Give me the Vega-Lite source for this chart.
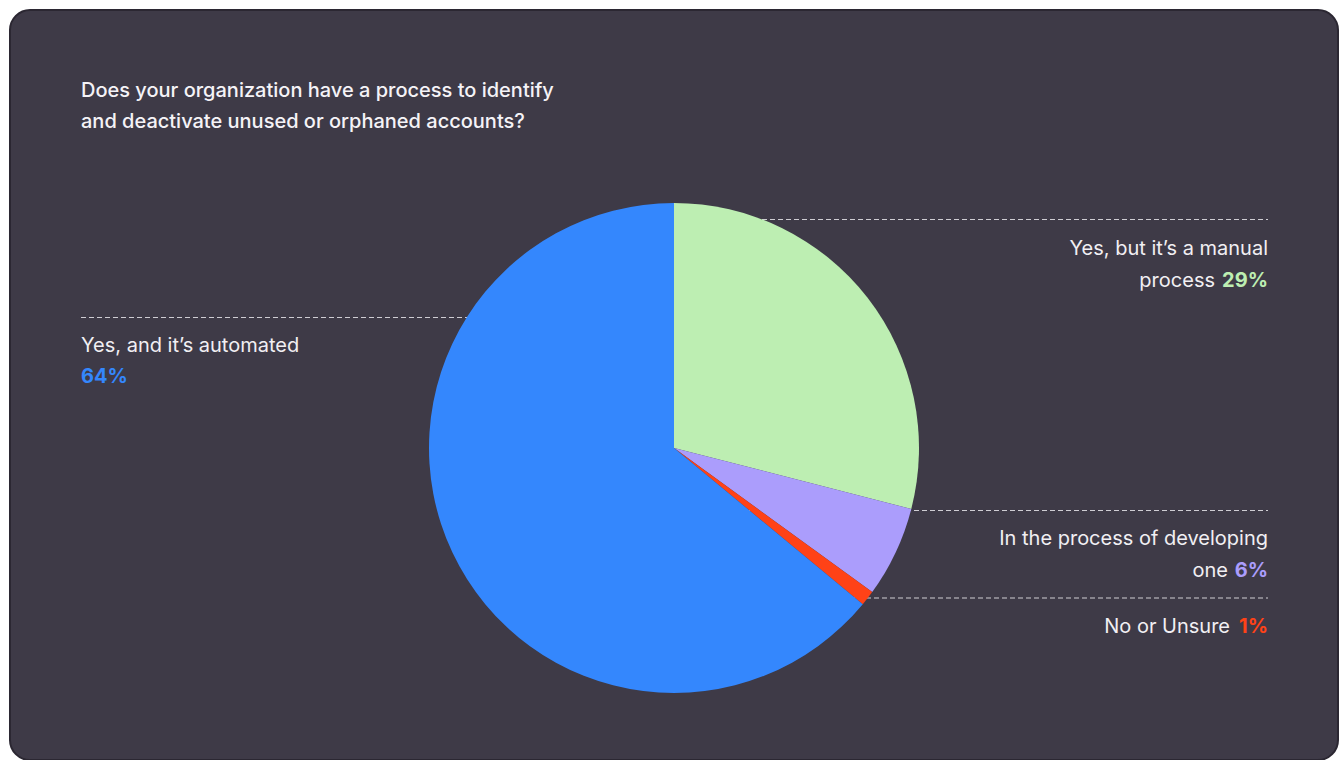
{
  "$schema": "https://vega.github.io/schema/vega-lite/v6.json",
  "width": 1328,
  "height": 750,
  "autosize": {"type": "none"},
  "padding": {"left": 10, "top": 10, "right": 3, "bottom": 0},
  "background": "#ffffff",
  "view": {"fill": "#3e3a47", "stroke": "#2b2732", "strokeWidth": 2, "cornerRadius": 20},
  "config": {
    "view": {"fill": "#3e3a47", "stroke": "#2b2732", "strokeWidth": 2, "cornerRadius": 20},
    "font": "Inter",
    "text": {"font": "Inter", "fontSize": 20, "color": "#f1eff3", "baseline": "alphabetic"}
  },
  "title": {
    "text": ["Does your organization have a process to identify", "and deactivate unused or orphaned accounts?"],
    "anchor": "start",
    "frame": "group",
    "orient": "top",
    "dx": 71,
    "offset": -122,
    "fontSize": 20,
    "fontWeight": 500,
    "lineHeight": 31,
    "color": "#f5f3f7",
    "font": "Inter"
  },
  "data": {
    "values": [
      {"category": "Yes, but it’s a manual process", "pct": 0.29},
      {"category": "In the process of developing one", "pct": 0.06},
      {"category": "No or Unsure", "pct": 0.01},
      {"category": "Yes, and it’s automated", "pct": 0.64}
    ]
  },
  "layer": [
    {
      "transform": [{"filter": "datum.category === 'Yes, but it’s a manual process'"}],
      "mark": {"type": "rule", "strokeDash": [5, 3], "color": "#cfcdd3", "strokeWidth": 1.2},
      "encoding": {"y": {"value": 209.5}, "x": {"value": 664}, "x2": {"value": 1258}}
    },
    {
      "transform": [{"filter": "datum.category === 'In the process of developing one'"}],
      "mark": {"type": "rule", "strokeDash": [5, 3], "color": "#cfcdd3", "strokeWidth": 1.2},
      "encoding": {"y": {"value": 500.5}, "x": {"value": 664}, "x2": {"value": 1258}}
    },
    {
      "transform": [{"filter": "datum.category === 'No or Unsure'"}],
      "mark": {"type": "rule", "strokeDash": [5, 3], "color": "#cfcdd3", "strokeWidth": 1.2},
      "encoding": {"y": {"value": 588}, "x": {"value": 664}, "x2": {"value": 1258}}
    },
    {
      "transform": [{"filter": "datum.category === 'Yes, and it’s automated'"}],
      "mark": {"type": "rule", "strokeDash": [5, 3], "color": "#cfcdd3", "strokeWidth": 1.2},
      "encoding": {"y": {"value": 307.5}, "x": {"value": 71}, "x2": {"value": 664}}
    },
    {
      "transform": [{"window": [{"op": "row_number", "as": "idx"}]}],
      "mark": {"type": "arc", "outerRadius": 245, "yOffset": 63},
      "encoding": {
        "theta": {"field": "pct", "type": "quantitative", "stack": true},
        "order": {"field": "idx", "type": "quantitative", "sort": "ascending"},
        "color": {
          "field": "category",
          "type": "nominal",
          "scale": {
            "domain": ["Yes, but it’s a manual process", "In the process of developing one", "No or Unsure", "Yes, and it’s automated"],
            "range": ["#bdeeb2", "#ab9dfc", "#ff4217", "#3487fd"]
          },
          "legend": null
        }
      }
    },
    {
      "transform": [{"filter": "datum.category === 'Yes, but it’s a manual process'"}],
      "layer": [
        {"mark": {"type": "text", "align": "right"}, "encoding": {"text": {"value": "Yes, but it’s a manual"}, "x": {"value": 1258}, "y": {"value": 245}}},
        {"mark": {"type": "text", "align": "right"}, "encoding": {"text": {"value": "process"}, "x": {"value": 1205}, "y": {"value": 277}}},
        {"mark": {"type": "text", "align": "right", "fontWeight": "bold", "color": "#bdeeb2"}, "encoding": {"text": {"field": "pct", "type": "quantitative", "format": ".0%"}, "x": {"value": 1258}, "y": {"value": 277}}}
      ]
    },
    {
      "transform": [{"filter": "datum.category === 'In the process of developing one'"}],
      "layer": [
        {"mark": {"type": "text", "align": "right"}, "encoding": {"text": {"value": "In the process of developing"}, "x": {"value": 1258}, "y": {"value": 535}}},
        {"mark": {"type": "text", "align": "right"}, "encoding": {"text": {"value": "one"}, "x": {"value": 1218}, "y": {"value": 567}}},
        {"mark": {"type": "text", "align": "right", "fontWeight": "bold", "color": "#ab9dfc"}, "encoding": {"text": {"field": "pct", "type": "quantitative", "format": ".0%"}, "x": {"value": 1258}, "y": {"value": 567}}}
      ]
    },
    {
      "transform": [{"filter": "datum.category === 'No or Unsure'"}],
      "layer": [
        {"mark": {"type": "text", "align": "right"}, "encoding": {"text": {"field": "category", "type": "nominal"}, "x": {"value": 1220}, "y": {"value": 623}}},
        {"mark": {"type": "text", "align": "right", "fontWeight": "bold", "color": "#ff4217"}, "encoding": {"text": {"field": "pct", "type": "quantitative", "format": ".0%"}, "x": {"value": 1258}, "y": {"value": 623}}}
      ]
    },
    {
      "transform": [{"filter": "datum.category === 'Yes, and it’s automated'"}],
      "layer": [
        {"mark": {"type": "text", "align": "left"}, "encoding": {"text": {"field": "category", "type": "nominal"}, "x": {"value": 71}, "y": {"value": 342}}},
        {"mark": {"type": "text", "align": "left", "fontWeight": "bold", "color": "#3487fd"}, "encoding": {"text": {"field": "pct", "type": "quantitative", "format": ".0%"}, "x": {"value": 71}, "y": {"value": 373}}}
      ]
    }
  ]
}
